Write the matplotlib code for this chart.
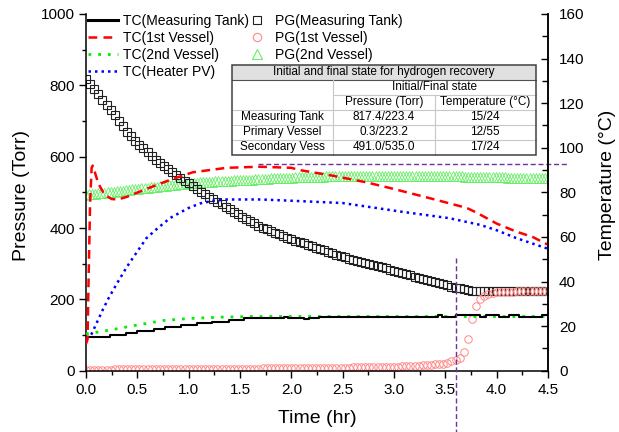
import matplotlib.pyplot as plt
from matplotlib.lines import Line2D
from matplotlib.patches import Rectangle
from matplotlib.ticker import MultipleLocator
import numpy as np

plt.rcParams['font.family'] = ['Liberation Sans', 'DejaVu Sans']

# pressure gauges (Torr), logged every 0.04 hr
pg_dt = 0.04
pg_tank = [817, 803, 789, 775, 760, 746, 731, 716, 701, 686, 670,
           657, 645, 634, 623, 612, 602, 592, 583, 574, 565, 556, 548,
           540, 533, 525, 518, 510, 502, 495, 487,
           480, 473, 466, 459, 452, 446, 439, 432, 425, 419, 413, 407, 401,
           396, 391, 386, 382, 377, 373, 369, 365, 361, 357, 353,
           349, 345, 341, 337, 333, 329, 325, 322, 318, 314, 310, 307, 304, 302,
           299, 296, 293, 290, 287, 283, 280, 277, 274, 271, 267, 264, 261, 258, 254, 251,
           248, 245, 242, 239, 236, 233, 231, 228, 226, 224, 223,
           223, 223, 223, 223, 223, 223, 223, 223, 223, 223, 223, 223, 223, 223, 223, 223, 223]
pg_vessel1 = [3, 3, 3, 3, 3, 3, 3, 4, 4, 4, 4, 4, 4, 4, 4, 4, 5, 5, 5, 5, 5, 5, 5, 5, 5,
              5, 5, 5, 5, 5, 5, 6, 6, 6, 6, 6, 6, 6, 6, 6, 6, 6, 6, 7, 7, 7, 7, 7, 7, 7,
              7, 7, 7, 7, 7, 7, 8, 8, 8, 8, 8, 8, 8, 8, 8, 9, 9, 9, 9, 9, 9, 10, 10, 10, 10,
              11, 11, 12, 12, 13, 13, 14, 15, 16, 17, 18, 19, 20,
              22, 26, 30, 36, 52, 88, 145, 182, 200, 210, 215, 218, 220, 221, 222, 222, 222,
              223, 223, 223, 223, 223, 223, 223, 223]
# second vessel gauge, logged every 0.03 hr
pg2_dt = 0.03
pg_vessel2 = [493, 494, 495, 496, 497, 498, 499, 500, 501, 502,
              503, 504, 505, 506, 507, 508, 509, 510, 511, 512,
              513, 514, 515, 516, 517, 518, 519, 520, 521, 522,
              523, 524, 524, 525, 526, 527, 527, 528, 529, 529,
              530, 530, 531, 531, 532, 532, 533, 533, 534, 534,
              535, 535, 536, 536, 536, 537, 537, 537, 538, 538,
              539, 539, 539, 540, 540, 541, 541, 541, 542, 542,
              543, 543, 543, 543, 544, 544, 544, 544, 545, 545,
              545, 545, 545, 545, 546, 546, 546, 546, 546, 546,
              546, 546, 546, 546, 546, 546, 546, 546, 546, 546,
              546, 546, 546, 546, 546, 546, 546, 546, 546, 546,
              546, 546, 546, 546, 546, 546, 545, 545, 545, 545,
              545, 545, 545, 544, 544, 544, 544, 544, 543, 543,
              543, 543, 543, 542, 542, 542, 542, 541, 541, 541,
              541, 541, 540, 540, 540, 540, 539, 539, 539, 539,
              539]

# thermocouples (deg C)
tc_tank_t = [0.00, 0.23, 0.39, 0.50, 0.66, 0.77, 0.93, 1.08, 1.23, 1.39, 1.54,
             1.93, 1.97, 2.12, 2.17, 2.27, 3.43, 3.47, 3.60, 3.84, 3.90, 4.02,
             4.12, 4.22, 4.30, 4.44, 4.50]
tc_tank = [15.0, 15.8, 16.8, 17.7, 18.8, 19.5, 20.5, 21.3, 22.0, 22.8, 23.5,
           24.2, 23.6, 23.2, 23.8, 24.3, 24.9, 24.3, 25.1, 24.3, 25.1, 24.3,
           25.1, 24.3, 24.3, 25.1, 25.1]
tc_v1_t = [0.0, 0.015, 0.025, 0.04, 0.055, 0.065, 0.08, 0.12, 0.18, 0.25, 0.31,
           0.4, 0.56, 0.7, 0.82, 1.04, 1.37, 1.69, 2.0, 2.08, 2.4, 2.73, 3.0,
           3.38, 3.71, 3.8, 3.9, 4.0, 4.19, 4.35, 4.5]
tc_v1 = [12, 14, 40, 75, 91, 92, 90, 84, 79, 77, 76.8,
         78, 81, 83.5, 85.6, 89, 91, 91.5, 91, 90, 87.5, 84.5, 81.5,
         77, 73, 71, 68.5, 66, 62.4, 60, 56.5]
tc_v2_t = [0.0, 0.1, 0.3, 0.5, 0.75, 1.0, 1.3, 1.6, 4.5]
tc_v2 = [16.5, 17.2, 18.8, 20.5, 22.5, 23.4, 24.0, 24.3, 24.3]
tc_heat_t = [0.0, 0.05, 0.1, 0.16, 0.22, 0.3, 0.4, 0.5, 0.59, 0.7, 0.82, 0.92,
             1.0, 1.11, 1.25, 1.37, 1.7, 2.02, 2.5, 3.06, 3.54, 3.84, 4.0, 4.19, 4.5]
tc_heat = [14.5, 16, 21, 27, 32.5, 39, 46.7, 53.5, 59.5, 64, 68.5, 71,
           73, 75, 76.3, 76.8, 76.8, 76.2, 75.2, 71.4, 68.4, 65.4, 63, 59.5, 54.7]

# purple marker lines
mark_t = 3.6
mark_top = 50.5
ref_temp = 92.6
ref_span = [1.675, 4.69]

labels_tc = ['TC(Measuring Tank)', 'TC(1st Vessel)', 'TC(2nd Vessel)', 'TC(Heater PV)']
labels_pg = ['PG(Measuring Tank)', 'PG(1st Vessel)', 'PG(2nd Vessel)']

table_title = 'Initial and final state for hydrogen recovery'
table_group = 'Initial/Final state'
table_cols = ['Pressure (Torr)', 'Temperature (°C)']
table_rows = ['Measuring Tank', 'Primary Vessel', 'Secondary Vess']
table_pressure = ['817.4/223.4', '0.3/223.2', '491.0/535.0']
table_temp = ['15/24', '12/55', '17/24']

t_pg = np.arange(len(pg_tank)) * pg_dt
t_pg2 = np.arange(len(pg_vessel2)) * pg2_dt

fig = plt.figure(figsize=(6.19, 4.32), dpi=100)
ax = fig.add_axes([0.1389, 0.1419, 0.7464, 0.8257])
ax2 = ax.twinx()

# pressure markers
ax.plot(t_pg2, pg_vessel2, ls='none', marker='^', ms=7, mfc='none', mec='#66ee66', mew=0.6)
ax.plot(t_pg, pg_tank, ls='none', marker='s', ms=5.2, mfc='none', mec='#202020', mew=0.8)
ax.plot(t_pg, pg_vessel1, ls='none', marker='o', ms=5.4, mfc='none', mec='#ff8888', mew=0.7)

# temperature lines
ax2.plot(tc_v2_t, tc_v2, color='#00ee00', lw=2.0, dashes=(1, 2.5))
ax2.plot(tc_tank_t, tc_tank, color='black', lw=1.5, drawstyle='steps-post')
ax2.plot(tc_heat_t, tc_heat, color='#0000ff', lw=1.8, dashes=(1, 1.6))
ax2.plot(tc_v1_t, tc_v1, color='#ff0000', lw=1.8, dashes=(3.5, 2.2))

# purple guide lines
ax2.plot([mark_t, mark_t], [mark_top, -30], color='#7030a0', lw=1.0, dashes=(3.6, 2), clip_on=False)
ax2.plot(ref_span, [ref_temp, ref_temp], color='#7030a0', lw=1.0, dashes=(3.6, 2), clip_on=False)

ax.set_xlim(0, 4.5)
ax.set_ylim(0, 1000)
ax2.set_ylim(0, 160)
ax.xaxis.set_major_locator(MultipleLocator(0.5))
ax.xaxis.set_minor_locator(MultipleLocator(0.25))
ax.yaxis.set_major_locator(MultipleLocator(200))
ax.yaxis.set_minor_locator(MultipleLocator(100))
ax2.yaxis.set_major_locator(MultipleLocator(20))
ax2.yaxis.set_minor_locator(MultipleLocator(10))
ax.xaxis.set_major_formatter(plt.FormatStrFormatter('%.1f'))

for a in (ax, ax2):
    a.spines['top'].set_visible(False)
    for s in a.spines.values():
        s.set_linewidth(1.1)
ax2.spines['left'].set_visible(False)
ax2.spines['bottom'].set_visible(False)

ax.tick_params(axis='both', which='both', direction='out', labelsize=11, width=1.0)
ax.tick_params(axis='both', which='major', length=5)
ax.tick_params(axis='both', which='minor', length=3)
ax.tick_params(axis='y', pad=3)
ax.tick_params(axis='x', pad=4)
ax2.tick_params(axis='y', which='both', direction='in', labelsize=11, width=1.0, pad=8)
ax2.tick_params(axis='y', which='major', length=5)
ax2.tick_params(axis='y', which='minor', length=4)

ax.set_xlabel('Time (hr)', fontsize=14)
ax.set_ylabel('Pressure (Torr)', fontsize=14)
ax2.set_ylabel('Temperature (°C)', fontsize=14)
ax.xaxis.set_label_coords(0.5, -0.11)
ax.yaxis.set_label_coords(-0.122, 0.49)
ax2.yaxis.set_label_coords(1.11, 0.52)

# legends
h_tc = [Line2D([], [], color='black', lw=2.2),
        Line2D([], [], color='#ff0000', lw=1.8, dashes=(3.5, 2.5)),
        Line2D([], [], color='#00ee00', lw=2.0, dashes=(1, 2.5)),
        Line2D([], [], color='#0000ff', lw=1.8, dashes=(1, 1.6))]
h_pg = [Line2D([], [], ls='none', marker='s', ms=5.5, mfc='none', mec='#202020', mew=0.8),
        Line2D([], [], ls='none', marker='o', ms=6, mfc='none', mec='#ff8888', mew=0.8),
        Line2D([], [], ls='none', marker='^', ms=6.5, mfc='none', mec='#66ee66', mew=0.8)]
leg1 = ax2.legend(h_tc, labels_tc, loc='upper left', bbox_to_anchor=(0.004, 1.0),
                  frameon=False, fontsize=10, handlelength=2.2, handletextpad=0.35,
                  labelspacing=0.22, borderpad=0, borderaxespad=0)
ax2.add_artist(leg1)
ax2.legend(h_pg, labels_pg, loc='upper left', bbox_to_anchor=(0.355, 1.0),
           frameon=False, fontsize=10, handlelength=1.0, handletextpad=0.8,
           labelspacing=0.22, borderpad=0, borderaxespad=0)

# state table
tr = ax2.transAxes
x0, x1, y0, y1 = 0.316, 0.974, 0.605, 0.857
rh = (y1 - y0) / 6
cw = (x1 - x0) / 3
light = '#c8c8c8'
ax2.add_patch(Rectangle((x0, y0), x1 - x0, y1 - y0, transform=tr, fc='white', ec='none', zorder=5))
ax2.add_patch(Rectangle((x0, y1 - rh), x1 - x0, rh, transform=tr, fc='#e0e0e0', ec='none', zorder=5))
ax2.plot([x0, x1], [y1 - rh, y1 - rh], transform=tr, color='#505050', lw=0.8, zorder=6)
ax2.plot([x0 + cw, x1], [y1 - 2 * rh, y1 - 2 * rh], transform=tr, color=light, lw=0.8, zorder=6)
for k in range(3, 6):
    ax2.plot([x0, x1], [y1 - k * rh, y1 - k * rh], transform=tr, color=light, lw=0.8, zorder=6)
ax2.plot([x0 + cw, x0 + cw], [y0, y1 - rh], transform=tr, color=light, lw=0.8, zorder=6)
ax2.plot([x0 + 2 * cw, x0 + 2 * cw], [y0, y1 - 2 * rh], transform=tr, color=light, lw=0.8, zorder=6)
ax2.add_patch(Rectangle((x0, y0), x1 - x0, y1 - y0, transform=tr, fc='none', ec='#404040', lw=1.1, zorder=7))

tkw = dict(transform=tr, ha='center', va='center', fontsize=8.5, zorder=8)
ax2.text((x0 + x1) / 2, y1 - 0.5 * rh, table_title, **tkw)
ax2.text(x0 + 2 * cw, y1 - 1.5 * rh, table_group, **tkw)
for j, c in enumerate(table_cols):
    ax2.text(x0 + (1.5 + j) * cw, y1 - 2.5 * rh, c, **tkw)
for i, r in enumerate(table_rows):
    yc = y1 - (3.5 + i) * rh
    ax2.text(x0 + 0.5 * cw, yc, r, **tkw)
    ax2.text(x0 + 1.5 * cw, yc, table_pressure[i], **tkw)
    ax2.text(x0 + 2.5 * cw, yc, table_temp[i], **tkw)

fig.savefig('out.png', dpi=100)
